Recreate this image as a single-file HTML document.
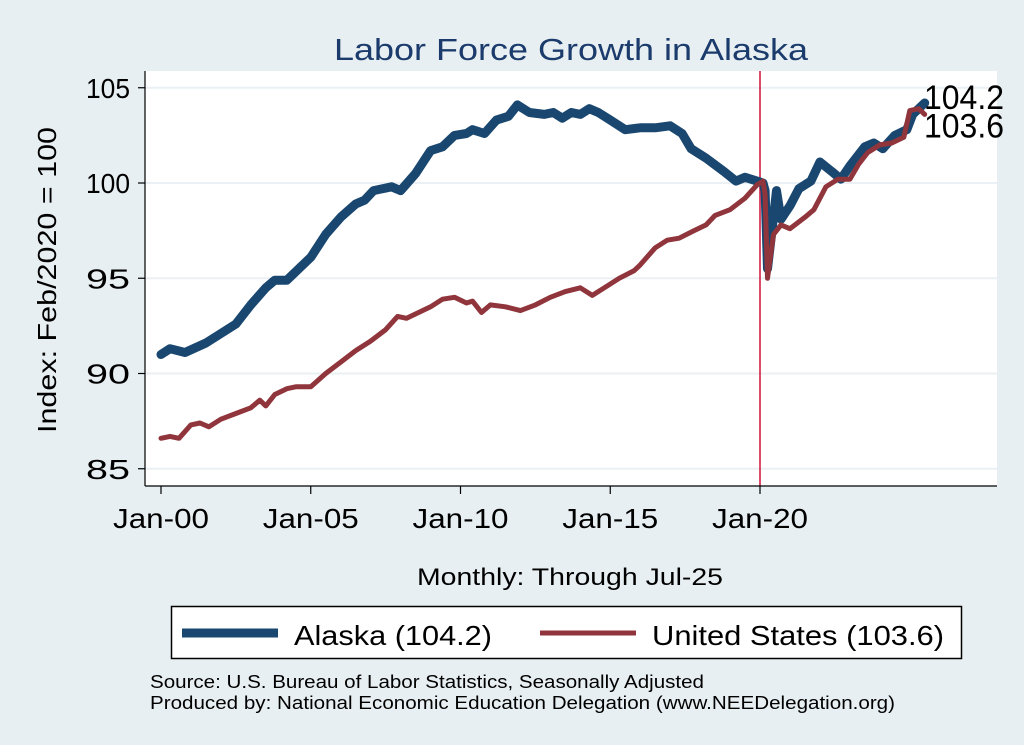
<!DOCTYPE html>
<html><head><meta charset="utf-8"><style>
html,body{margin:0;padding:0;background:#e8eff2;}
svg{display:block;font-family:"Liberation Sans",Arial,sans-serif;}
</style></head><body>
<svg id="chart" width="1024" height="745" viewBox="0 0 1024 745" xmlns="http://www.w3.org/2000/svg">
<rect x="0" y="0" width="1024" height="745" fill="#e8eff2"/>
<text x="571" y="60" text-anchor="middle" font-size="31" fill="#1a3b6b" textLength="474" lengthAdjust="spacingAndGlyphs">Labor Force Growth in Alaska</text>
<rect x="145" y="71" width="852" height="415" fill="#ffffff"/>
<g id="grid"></g>
<g id="series"></g>
<g id="axes"></g>
<text transform="translate(56,280) rotate(-90)" text-anchor="middle" font-size="26" fill="#000" textLength="306" lengthAdjust="spacingAndGlyphs">Index: Feb/2020 = 100</text>
<text x="570" y="585" text-anchor="middle" font-size="24" fill="#000" textLength="306" lengthAdjust="spacingAndGlyphs">Monthly: Through Jul-25</text>
<g>
<rect x="171.5" y="606.5" width="790" height="52" fill="#fff" stroke="#000" stroke-width="1.5"/>
<line x1="182" y1="633" x2="278" y2="633" stroke="#1a476f" stroke-width="9"/>
<text x="294" y="645" font-size="28" fill="#000" textLength="198" lengthAdjust="spacingAndGlyphs">Alaska (104.2)</text>
<line x1="540" y1="633" x2="636" y2="633" stroke="#90353b" stroke-width="5"/>
<text x="652" y="645" font-size="28" fill="#000" textLength="292" lengthAdjust="spacingAndGlyphs">United States (103.6)</text>
</g>
<text x="150" y="688" font-size="18" fill="#000" textLength="554" lengthAdjust="spacingAndGlyphs">Source: U.S. Bureau of Labor Statistics, Seasonally Adjusted</text>
<text x="150" y="709" font-size="18" fill="#000" textLength="745" lengthAdjust="spacingAndGlyphs">Produced by: National Economic Education Delegation (www.NEEDelegation.org)</text>
</svg>
<script>
const yTicks=[85,90,95,100,105];
const xTickYears=[2000,2005,2010,2015,2020];
const xTickLabels=["Jan-00","Jan-05","Jan-10","Jan-15","Jan-20"];
const akDates=[2000,2000.3,2000.8,2001.5,2002,2002.5,2003,2003.5,2003.8,2004.2,2004.6,2005,2005.5,2006,2006.5,2006.8,2007.1,2007.7,2008,2008.5,2009,2009.4,2009.8,2010.2,2010.4,2010.8,2011.2,2011.6,2011.9,2012.3,2012.8,2013.1,2013.4,2013.7,2014,2014.3,2014.6,2015,2015.5,2016,2016.5,2017,2017.4,2017.7,2018.2,2018.8,2019.2,2019.5,2019.9,2020.1,2020.17,2020.25,2020.4,2020.55,2020.7,2021,2021.3,2021.7,2022,2022.4,2022.7,2023,2023.5,2023.8,2024.1,2024.5,2024.9,2025.1,2025.5];
const akValues=[91.0,91.3,91.1,91.6,92.1,92.6,93.6,94.5,94.9,94.9,95.5,96.1,97.3,98.2,98.9,99.1,99.6,99.8,99.6,100.5,101.7,101.9,102.5,102.6,102.8,102.6,103.3,103.5,104.1,103.7,103.6,103.7,103.4,103.7,103.6,103.9,103.7,103.3,102.8,102.9,102.9,103.0,102.6,101.8,101.3,100.6,100.1,100.3,100.1,100.0,99.6,95.5,97.5,99.6,98.1,98.8,99.7,100.1,101.1,100.6,100.2,100.9,101.9,102.1,101.8,102.5,102.8,103.6,104.2];
const usDates=[2000,2000.3,2000.6,2001,2001.3,2001.6,2002,2002.5,2003,2003.3,2003.5,2003.8,2004.2,2004.5,2005,2005.5,2006,2006.5,2007,2007.5,2007.9,2008.2,2008.6,2009,2009.4,2009.8,2010.2,2010.4,2010.7,2011,2011.5,2012,2012.5,2013,2013.5,2014,2014.4,2014.8,2015.3,2015.8,2016,2016.5,2016.9,2017.3,2017.8,2018.2,2018.5,2019,2019.5,2019.9,2020.1,2020.17,2020.25,2020.45,2020.7,2021,2021.5,2021.8,2022.2,2022.6,2023,2023.3,2023.6,2024,2024.4,2024.8,2025,2025.3,2025.5];
const usValues=[86.6,86.7,86.6,87.3,87.4,87.2,87.6,87.9,88.2,88.6,88.3,88.9,89.2,89.3,89.3,90.0,90.6,91.2,91.7,92.3,93.0,92.9,93.2,93.5,93.9,94.0,93.7,93.8,93.2,93.6,93.5,93.3,93.6,94.0,94.3,94.5,94.1,94.5,95.0,95.4,95.7,96.6,97.0,97.1,97.5,97.8,98.3,98.6,99.2,99.9,100.1,99.4,95.0,97.3,97.8,97.6,98.2,98.6,99.8,100.2,100.2,101.0,101.6,102.0,102.1,102.4,103.8,103.9,103.6];
const endLabels=["104.2","103.6"];

const NS="http://www.w3.org/2000/svg";
const X=t=>161+(t-2000)*29.95;
const Y=v=>183-(v-100)*19.05;
function mk(tag,attrs,parent){const e=document.createElementNS(NS,tag);for(const k in attrs)e.setAttribute(k,attrs[k]);parent.appendChild(e);return e;}
const grid=document.getElementById('grid'),axes=document.getElementById('axes'),series=document.getElementById('series');
yTicks.forEach(v=>{
  const g=mk('line',{x1:145,x2:997,y1:Y(v),y2:Y(v),stroke:'#eaf0f3','stroke-width':2},grid);
  
  
  const t=mk('line',{x1:138,x2:145,y1:Y(v),y2:Y(v),stroke:'#000','stroke-width':1.2},axes);
  
  
  const l=mk('text',{x:130,y:Y(v)+10,'text-anchor':'end','font-size':28,fill:'#000',textLength:44,lengthAdjust:'spacingAndGlyphs'},axes);
  l.textContent=String(v);
  
  
});
xTickYears.forEach((yr,i)=>{
  const t=mk('line',{x1:X(yr),x2:X(yr),y1:486,y2:494,stroke:'#000','stroke-width':1.2},axes);
  
  
  const l=mk('text',{x:X(yr),y:528,'text-anchor':'middle','font-size':28,fill:'#000',textLength:96,lengthAdjust:'spacingAndGlyphs'},axes);
  l.textContent=xTickLabels[i];
  
  
});
const yax=mk('line',{x1:145,x2:145,y1:71,y2:486,stroke:'#000','stroke-width':1.2},axes);


const xax=mk('line',{x1:145,x2:997,y1:486,y2:486,stroke:'#000','stroke-width':1.2},axes);


const vl=mk('line',{x1:X(2020),x2:X(2020),y1:71,y2:486,stroke:'#d0103a','stroke-width':1.5},series);


function path(d,v){return d.map((t,i)=>(i?'L':'M')+X(t).toFixed(1)+','+Y(v[i]).toFixed(1)).join('');}
const ak=mk('path',{d:path(akDates,akValues),fill:'none',stroke:'#1a476f','stroke-width':9,'stroke-linejoin':'round','stroke-linecap':'round'},series);


const us=mk('path',{d:path(usDates,usValues),fill:'none',stroke:'#90353b','stroke-width':5,'stroke-linejoin':'round','stroke-linecap':'round'},series);


const la=mk('text',{x:924,y:Y(akValues[akValues.length-1])+6,'font-size':34,fill:'#000',textLength:80,lengthAdjust:'spacingAndGlyphs'},series);
la.textContent=endLabels[0];


const lu=mk('text',{x:924,y:Y(usValues[usValues.length-1])+23,'font-size':34,fill:'#000',textLength:80,lengthAdjust:'spacingAndGlyphs'},series);
lu.textContent=endLabels[1];


</script>
</body></html>
